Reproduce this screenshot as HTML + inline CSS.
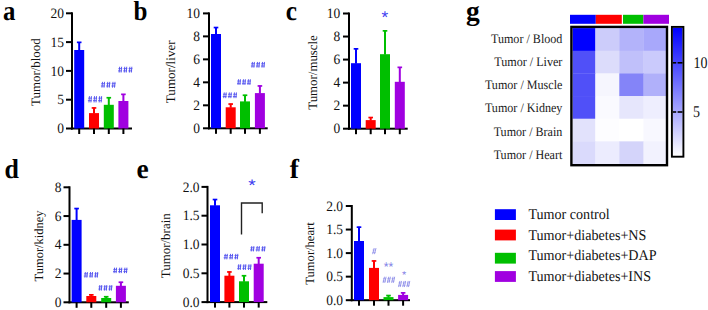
<!DOCTYPE html>
<html><head><meta charset="utf-8"><style>
html,body{margin:0;padding:0;background:#fff;width:708px;height:310px;overflow:hidden}
svg{display:block}
text{text-rendering:geometricPrecision}
</style></head><body>
<svg width="708" height="310" viewBox="0 0 708 310">
<rect width="708" height="310" fill="#fff"/>
<text x="2.9" y="20.1" font-size="27.5" font-family='"Liberation Serif", serif' font-weight="bold" fill="#000" transform="translate(2.9,0) scale(0.9,1) translate(-2.9,0)">a</text>
<text x="133.5" y="20.1" font-size="27.5" font-family='"Liberation Serif", serif' font-weight="bold" fill="#000" transform="translate(133.5,0) scale(0.91,1) translate(-133.5,0)">b</text>
<text x="285.7" y="20.1" font-size="27.5" font-family='"Liberation Serif", serif' font-weight="bold" fill="#000" transform="translate(285.7,0) scale(0.92,1) translate(-285.7,0)">c</text>
<text x="466.1" y="20.1" font-size="27.5" font-family='"Liberation Serif", serif' font-weight="bold" fill="#000" transform="translate(466.1,0) scale(1.0,1) translate(-466.1,0)">g</text>
<text x="4.6" y="177.5" font-size="27.5" font-family='"Liberation Serif", serif' font-weight="bold" fill="#000" transform="translate(4.6,0) scale(0.94,1) translate(-4.6,0)">d</text>
<text x="136.4" y="177.5" font-size="27.5" font-family='"Liberation Serif", serif' font-weight="bold" fill="#000" transform="translate(136.4,0) scale(1.0,1) translate(-136.4,0)">e</text>
<text x="289.7" y="177.5" font-size="27.5" font-family='"Liberation Serif", serif' font-weight="bold" fill="#000" transform="translate(289.7,0) scale(1.0,1) translate(-289.7,0)">f</text>
<rect x="71.00" y="12.30" width="2.00" height="117.20" fill="#000"/>
<rect x="71.00" y="127.50" width="61.00" height="2.00" fill="#000"/>
<rect x="66.00" y="127.50" width="6.00" height="2.00" fill="#000"/>
<text x="64.00" y="133.10" font-size="13.5" text-anchor="end" font-family='"Liberation Serif", serif' font-weight="normal" fill="#111" transform="translate(0,133.10) scale(1,1.06) translate(0,-133.10)" >0</text>
<rect x="66.00" y="98.70" width="6.00" height="2.00" fill="#000"/>
<text x="64.00" y="104.30" font-size="13.5" text-anchor="end" font-family='"Liberation Serif", serif' font-weight="normal" fill="#111" transform="translate(0,104.30) scale(1,1.06) translate(0,-104.30)" >5</text>
<rect x="66.00" y="69.90" width="6.00" height="2.00" fill="#000"/>
<text x="64.00" y="75.50" font-size="13.5" text-anchor="end" font-family='"Liberation Serif", serif' font-weight="normal" fill="#111" transform="translate(0,75.50) scale(1,1.06) translate(0,-75.50)" >10</text>
<rect x="66.00" y="41.10" width="6.00" height="2.00" fill="#000"/>
<text x="64.00" y="46.70" font-size="13.5" text-anchor="end" font-family='"Liberation Serif", serif' font-weight="normal" fill="#111" transform="translate(0,46.70) scale(1,1.06) translate(0,-46.70)" >15</text>
<rect x="66.00" y="12.30" width="6.00" height="2.00" fill="#000"/>
<text x="64.00" y="17.90" font-size="13.5" text-anchor="end" font-family='"Liberation Serif", serif' font-weight="normal" fill="#111" transform="translate(0,17.90) scale(1,1.06) translate(0,-17.90)" >20</text>
<rect x="74.20" y="50.00" width="10.00" height="78.50" fill="#0000ff"/>
<rect x="78.20" y="42.00" width="2.00" height="8.50" fill="#0000ff"/>
<rect x="76.90" y="41.50" width="4.60" height="1.70" fill="#0000ff"/>
<rect x="78.20" y="128.50" width="2.00" height="5.50" fill="#000"/>
<rect x="89.00" y="113.10" width="10.00" height="15.40" fill="#ff0000"/>
<rect x="93.00" y="107.60" width="2.00" height="6.00" fill="#ff0000"/>
<rect x="91.70" y="107.10" width="4.60" height="1.70" fill="#ff0000"/>
<rect x="93.00" y="128.50" width="2.00" height="5.50" fill="#000"/>
<rect x="103.80" y="104.80" width="10.00" height="23.70" fill="#00bf00"/>
<rect x="107.80" y="97.40" width="2.00" height="7.90" fill="#00bf00"/>
<rect x="106.50" y="96.90" width="4.60" height="1.70" fill="#00bf00"/>
<rect x="107.80" y="128.50" width="2.00" height="5.50" fill="#000"/>
<rect x="118.40" y="101.00" width="10.00" height="27.50" fill="#a000e0"/>
<rect x="122.40" y="94.00" width="2.00" height="7.50" fill="#a000e0"/>
<rect x="121.10" y="93.50" width="4.60" height="1.70" fill="#a000e0"/>
<rect x="122.40" y="128.50" width="2.00" height="5.50" fill="#000"/>
<text transform="translate(39.60,72.10) rotate(-90)" font-size="12.9" text-anchor="middle" font-family='"Liberation Serif", serif' fill="#111">Tumor/blood</text>
<rect x="208.00" y="12.40" width="2.00" height="116.90" fill="#000"/>
<rect x="208.00" y="127.30" width="59.70" height="2.00" fill="#000"/>
<rect x="203.00" y="127.30" width="6.00" height="2.00" fill="#000"/>
<text x="200.00" y="132.90" font-size="13.5" text-anchor="end" font-family='"Liberation Serif", serif' font-weight="normal" fill="#111" transform="translate(0,132.90) scale(1,1.06) translate(0,-132.90)" >0</text>
<rect x="203.00" y="104.32" width="6.00" height="2.00" fill="#000"/>
<text x="200.00" y="109.92" font-size="13.5" text-anchor="end" font-family='"Liberation Serif", serif' font-weight="normal" fill="#111" transform="translate(0,109.92) scale(1,1.06) translate(0,-109.92)" >2</text>
<rect x="203.00" y="81.34" width="6.00" height="2.00" fill="#000"/>
<text x="200.00" y="86.94" font-size="13.5" text-anchor="end" font-family='"Liberation Serif", serif' font-weight="normal" fill="#111" transform="translate(0,86.94) scale(1,1.06) translate(0,-86.94)" >4</text>
<rect x="203.00" y="58.36" width="6.00" height="2.00" fill="#000"/>
<text x="200.00" y="63.96" font-size="13.5" text-anchor="end" font-family='"Liberation Serif", serif' font-weight="normal" fill="#111" transform="translate(0,63.96) scale(1,1.06) translate(0,-63.96)" >6</text>
<rect x="203.00" y="35.38" width="6.00" height="2.00" fill="#000"/>
<text x="200.00" y="40.98" font-size="13.5" text-anchor="end" font-family='"Liberation Serif", serif' font-weight="normal" fill="#111" transform="translate(0,40.98) scale(1,1.06) translate(0,-40.98)" >8</text>
<rect x="203.00" y="12.40" width="6.00" height="2.00" fill="#000"/>
<text x="200.00" y="18.00" font-size="13.5" text-anchor="end" font-family='"Liberation Serif", serif' font-weight="normal" fill="#111" transform="translate(0,18.00) scale(1,1.06) translate(0,-18.00)" >10</text>
<rect x="211.00" y="34.00" width="10.00" height="94.30" fill="#0000ff"/>
<rect x="215.00" y="27.20" width="2.00" height="7.30" fill="#0000ff"/>
<rect x="213.70" y="26.70" width="4.60" height="1.70" fill="#0000ff"/>
<rect x="215.00" y="128.30" width="2.00" height="5.50" fill="#000"/>
<rect x="225.70" y="107.30" width="10.00" height="21.00" fill="#ff0000"/>
<rect x="229.70" y="103.70" width="2.00" height="4.10" fill="#ff0000"/>
<rect x="228.40" y="103.20" width="4.60" height="1.70" fill="#ff0000"/>
<rect x="229.70" y="128.30" width="2.00" height="5.50" fill="#000"/>
<rect x="240.00" y="101.40" width="10.00" height="26.90" fill="#00bf00"/>
<rect x="244.00" y="94.90" width="2.00" height="7.00" fill="#00bf00"/>
<rect x="242.70" y="94.40" width="4.60" height="1.70" fill="#00bf00"/>
<rect x="244.00" y="128.30" width="2.00" height="5.50" fill="#000"/>
<rect x="254.90" y="93.10" width="10.00" height="35.20" fill="#a000e0"/>
<rect x="258.90" y="85.60" width="2.00" height="8.00" fill="#a000e0"/>
<rect x="257.60" y="85.10" width="4.60" height="1.70" fill="#a000e0"/>
<rect x="258.90" y="128.30" width="2.00" height="5.50" fill="#000"/>
<text transform="translate(175.20,71.80) rotate(-90)" font-size="13.1" text-anchor="middle" font-family='"Liberation Serif", serif' fill="#111">Tumor/liver</text>
<rect x="348.00" y="12.50" width="2.00" height="117.20" fill="#000"/>
<rect x="348.00" y="127.70" width="59.70" height="2.00" fill="#000"/>
<rect x="343.00" y="127.70" width="6.00" height="2.00" fill="#000"/>
<text x="340.30" y="133.30" font-size="13.5" text-anchor="end" font-family='"Liberation Serif", serif' font-weight="normal" fill="#111" transform="translate(0,133.30) scale(1,1.06) translate(0,-133.30)" >0</text>
<rect x="343.00" y="104.66" width="6.00" height="2.00" fill="#000"/>
<text x="340.30" y="110.26" font-size="13.5" text-anchor="end" font-family='"Liberation Serif", serif' font-weight="normal" fill="#111" transform="translate(0,110.26) scale(1,1.06) translate(0,-110.26)" >2</text>
<rect x="343.00" y="81.62" width="6.00" height="2.00" fill="#000"/>
<text x="340.30" y="87.22" font-size="13.5" text-anchor="end" font-family='"Liberation Serif", serif' font-weight="normal" fill="#111" transform="translate(0,87.22) scale(1,1.06) translate(0,-87.22)" >4</text>
<rect x="343.00" y="58.58" width="6.00" height="2.00" fill="#000"/>
<text x="340.30" y="64.18" font-size="13.5" text-anchor="end" font-family='"Liberation Serif", serif' font-weight="normal" fill="#111" transform="translate(0,64.18) scale(1,1.06) translate(0,-64.18)" >6</text>
<rect x="343.00" y="35.54" width="6.00" height="2.00" fill="#000"/>
<text x="340.30" y="41.14" font-size="13.5" text-anchor="end" font-family='"Liberation Serif", serif' font-weight="normal" fill="#111" transform="translate(0,41.14) scale(1,1.06) translate(0,-41.14)" >8</text>
<rect x="343.00" y="12.50" width="6.00" height="2.00" fill="#000"/>
<text x="340.30" y="18.10" font-size="13.5" text-anchor="end" font-family='"Liberation Serif", serif' font-weight="normal" fill="#111" transform="translate(0,18.10) scale(1,1.06) translate(0,-18.10)" >10</text>
<rect x="351.00" y="63.20" width="10.00" height="65.50" fill="#0000ff"/>
<rect x="355.00" y="48.50" width="2.00" height="15.20" fill="#0000ff"/>
<rect x="353.70" y="48.00" width="4.60" height="1.70" fill="#0000ff"/>
<rect x="355.00" y="128.70" width="2.00" height="5.50" fill="#000"/>
<rect x="365.70" y="120.10" width="10.00" height="8.60" fill="#ff0000"/>
<rect x="369.70" y="117.20" width="2.00" height="3.40" fill="#ff0000"/>
<rect x="368.40" y="116.70" width="4.60" height="1.70" fill="#ff0000"/>
<rect x="369.70" y="128.70" width="2.00" height="5.50" fill="#000"/>
<rect x="380.00" y="54.20" width="10.00" height="74.50" fill="#00bf00"/>
<rect x="384.00" y="30.50" width="2.00" height="24.20" fill="#00bf00"/>
<rect x="382.70" y="30.00" width="4.60" height="1.70" fill="#00bf00"/>
<rect x="384.00" y="128.70" width="2.00" height="5.50" fill="#000"/>
<rect x="394.80" y="81.80" width="10.00" height="46.90" fill="#a000e0"/>
<rect x="398.80" y="67.00" width="2.00" height="15.30" fill="#a000e0"/>
<rect x="397.50" y="66.50" width="4.60" height="1.70" fill="#a000e0"/>
<rect x="398.80" y="128.70" width="2.00" height="5.50" fill="#000"/>
<text transform="translate(316.60,72.45) rotate(-90)" font-size="12.87" text-anchor="middle" font-family='"Liberation Serif", serif' fill="#111">Tumor/muscle</text>
<rect x="68.50" y="186.30" width="2.00" height="117.00" fill="#000"/>
<rect x="68.50" y="301.30" width="60.30" height="2.00" fill="#000"/>
<rect x="63.50" y="301.30" width="6.00" height="2.00" fill="#000"/>
<text x="61.50" y="306.90" font-size="13.5" text-anchor="end" font-family='"Liberation Serif", serif' font-weight="normal" fill="#111" transform="translate(0,306.90) scale(1,1.06) translate(0,-306.90)" >0</text>
<rect x="63.50" y="272.55" width="6.00" height="2.00" fill="#000"/>
<text x="61.50" y="278.15" font-size="13.5" text-anchor="end" font-family='"Liberation Serif", serif' font-weight="normal" fill="#111" transform="translate(0,278.15) scale(1,1.06) translate(0,-278.15)" >2</text>
<rect x="63.50" y="243.80" width="6.00" height="2.00" fill="#000"/>
<text x="61.50" y="249.40" font-size="13.5" text-anchor="end" font-family='"Liberation Serif", serif' font-weight="normal" fill="#111" transform="translate(0,249.40) scale(1,1.06) translate(0,-249.40)" >4</text>
<rect x="63.50" y="215.05" width="6.00" height="2.00" fill="#000"/>
<text x="61.50" y="220.65" font-size="13.5" text-anchor="end" font-family='"Liberation Serif", serif' font-weight="normal" fill="#111" transform="translate(0,220.65) scale(1,1.06) translate(0,-220.65)" >6</text>
<rect x="63.50" y="186.30" width="6.00" height="2.00" fill="#000"/>
<text x="61.50" y="191.90" font-size="13.5" text-anchor="end" font-family='"Liberation Serif", serif' font-weight="normal" fill="#111" transform="translate(0,191.90) scale(1,1.06) translate(0,-191.90)" >8</text>
<rect x="71.60" y="219.90" width="10.00" height="82.40" fill="#0000ff"/>
<rect x="75.60" y="208.20" width="2.00" height="12.20" fill="#0000ff"/>
<rect x="74.30" y="207.70" width="4.60" height="1.70" fill="#0000ff"/>
<rect x="75.60" y="302.30" width="2.00" height="5.50" fill="#000"/>
<rect x="86.30" y="296.00" width="10.00" height="6.30" fill="#ff0000"/>
<rect x="90.30" y="294.50" width="2.00" height="2.00" fill="#ff0000"/>
<rect x="89.00" y="294.00" width="4.60" height="1.70" fill="#ff0000"/>
<rect x="90.30" y="302.30" width="2.00" height="5.50" fill="#000"/>
<rect x="101.20" y="298.00" width="10.00" height="4.30" fill="#00bf00"/>
<rect x="105.20" y="296.40" width="2.00" height="2.10" fill="#00bf00"/>
<rect x="103.90" y="295.90" width="4.60" height="1.70" fill="#00bf00"/>
<rect x="105.20" y="302.30" width="2.00" height="5.50" fill="#000"/>
<rect x="115.90" y="285.80" width="10.00" height="16.50" fill="#a000e0"/>
<rect x="119.90" y="281.90" width="2.00" height="4.40" fill="#a000e0"/>
<rect x="118.60" y="281.40" width="4.60" height="1.70" fill="#a000e0"/>
<rect x="119.90" y="302.30" width="2.00" height="5.50" fill="#000"/>
<text transform="translate(42.60,246.00) rotate(-90)" font-size="12.5" text-anchor="middle" font-family='"Liberation Serif", serif' fill="#111">Tumor/kidney</text>
<rect x="206.50" y="185.90" width="2.00" height="117.20" fill="#000"/>
<rect x="206.50" y="301.10" width="60.80" height="2.00" fill="#000"/>
<rect x="201.50" y="301.10" width="6.00" height="2.00" fill="#000"/>
<text x="199.50" y="306.70" font-size="13.5" text-anchor="end" font-family='"Liberation Serif", serif' font-weight="normal" fill="#111" transform="translate(0,306.70) scale(1,1.06) translate(0,-306.70)" >0.0</text>
<rect x="201.50" y="272.30" width="6.00" height="2.00" fill="#000"/>
<text x="199.50" y="277.90" font-size="13.5" text-anchor="end" font-family='"Liberation Serif", serif' font-weight="normal" fill="#111" transform="translate(0,277.90) scale(1,1.06) translate(0,-277.90)" >0.5</text>
<rect x="201.50" y="243.50" width="6.00" height="2.00" fill="#000"/>
<text x="199.50" y="249.10" font-size="13.5" text-anchor="end" font-family='"Liberation Serif", serif' font-weight="normal" fill="#111" transform="translate(0,249.10) scale(1,1.06) translate(0,-249.10)" >1.0</text>
<rect x="201.50" y="214.70" width="6.00" height="2.00" fill="#000"/>
<text x="199.50" y="220.30" font-size="13.5" text-anchor="end" font-family='"Liberation Serif", serif' font-weight="normal" fill="#111" transform="translate(0,220.30) scale(1,1.06) translate(0,-220.30)" >1.5</text>
<rect x="201.50" y="185.90" width="6.00" height="2.00" fill="#000"/>
<text x="199.50" y="191.50" font-size="13.5" text-anchor="end" font-family='"Liberation Serif", serif' font-weight="normal" fill="#111" transform="translate(0,191.50) scale(1,1.06) translate(0,-191.50)" >2.0</text>
<rect x="210.00" y="205.30" width="10.00" height="96.80" fill="#0000ff"/>
<rect x="214.00" y="199.20" width="2.00" height="6.60" fill="#0000ff"/>
<rect x="212.70" y="198.70" width="4.60" height="1.70" fill="#0000ff"/>
<rect x="214.00" y="302.10" width="2.00" height="5.50" fill="#000"/>
<rect x="224.40" y="275.70" width="10.00" height="26.40" fill="#ff0000"/>
<rect x="228.40" y="271.60" width="2.00" height="4.60" fill="#ff0000"/>
<rect x="227.10" y="271.10" width="4.60" height="1.70" fill="#ff0000"/>
<rect x="228.40" y="302.10" width="2.00" height="5.50" fill="#000"/>
<rect x="239.00" y="281.30" width="10.00" height="20.80" fill="#00bf00"/>
<rect x="243.00" y="275.40" width="2.00" height="6.40" fill="#00bf00"/>
<rect x="241.70" y="274.90" width="4.60" height="1.70" fill="#00bf00"/>
<rect x="243.00" y="302.10" width="2.00" height="5.50" fill="#000"/>
<rect x="253.70" y="263.70" width="10.00" height="38.40" fill="#a000e0"/>
<rect x="257.70" y="257.40" width="2.00" height="6.80" fill="#a000e0"/>
<rect x="256.40" y="256.90" width="4.60" height="1.70" fill="#a000e0"/>
<rect x="257.70" y="302.10" width="2.00" height="5.50" fill="#000"/>
<text transform="translate(170.00,245.80) rotate(-90)" font-size="12.96" text-anchor="middle" font-family='"Liberation Serif", serif' fill="#111">Tumor/brain</text>
<rect x="350.80" y="205.00" width="2.00" height="96.20" fill="#000"/>
<rect x="350.80" y="299.20" width="59.20" height="2.00" fill="#000"/>
<rect x="345.80" y="299.20" width="6.00" height="2.00" fill="#000"/>
<text x="343.10" y="304.80" font-size="13.5" text-anchor="end" font-family='"Liberation Serif", serif' font-weight="normal" fill="#111" transform="translate(0,304.80) scale(1,1.06) translate(0,-304.80)" >0.0</text>
<rect x="345.80" y="275.65" width="6.00" height="2.00" fill="#000"/>
<text x="343.10" y="281.25" font-size="13.5" text-anchor="end" font-family='"Liberation Serif", serif' font-weight="normal" fill="#111" transform="translate(0,281.25) scale(1,1.06) translate(0,-281.25)" >0.5</text>
<rect x="345.80" y="252.10" width="6.00" height="2.00" fill="#000"/>
<text x="343.10" y="257.70" font-size="13.5" text-anchor="end" font-family='"Liberation Serif", serif' font-weight="normal" fill="#111" transform="translate(0,257.70) scale(1,1.06) translate(0,-257.70)" >1.0</text>
<rect x="345.80" y="228.55" width="6.00" height="2.00" fill="#000"/>
<text x="343.10" y="234.15" font-size="13.5" text-anchor="end" font-family='"Liberation Serif", serif' font-weight="normal" fill="#111" transform="translate(0,234.15) scale(1,1.06) translate(0,-234.15)" >1.5</text>
<rect x="345.80" y="205.00" width="6.00" height="2.00" fill="#000"/>
<text x="343.10" y="210.60" font-size="13.5" text-anchor="end" font-family='"Liberation Serif", serif' font-weight="normal" fill="#111" transform="translate(0,210.60) scale(1,1.06) translate(0,-210.60)" >2.0</text>
<rect x="354.00" y="241.00" width="10.00" height="59.20" fill="#0000ff"/>
<rect x="358.00" y="226.80" width="2.00" height="14.70" fill="#0000ff"/>
<rect x="356.70" y="226.30" width="4.60" height="1.70" fill="#0000ff"/>
<rect x="358.00" y="300.20" width="2.00" height="5.50" fill="#000"/>
<rect x="369.00" y="267.90" width="10.00" height="32.30" fill="#ff0000"/>
<rect x="373.00" y="260.60" width="2.00" height="7.80" fill="#ff0000"/>
<rect x="371.70" y="260.10" width="4.60" height="1.70" fill="#ff0000"/>
<rect x="373.00" y="300.20" width="2.00" height="5.50" fill="#000"/>
<rect x="383.50" y="297.10" width="10.00" height="3.10" fill="#00bf00"/>
<rect x="387.50" y="295.20" width="2.00" height="2.40" fill="#00bf00"/>
<rect x="386.20" y="294.70" width="4.60" height="1.70" fill="#00bf00"/>
<rect x="387.50" y="300.20" width="2.00" height="5.50" fill="#000"/>
<rect x="398.10" y="294.90" width="10.00" height="5.30" fill="#a000e0"/>
<rect x="402.10" y="292.50" width="2.00" height="2.90" fill="#a000e0"/>
<rect x="400.80" y="292.00" width="4.60" height="1.70" fill="#a000e0"/>
<rect x="402.10" y="300.20" width="2.00" height="5.50" fill="#000"/>
<text transform="translate(314.20,253.50) rotate(-90)" font-size="12.55" text-anchor="middle" font-family='"Liberation Serif", serif' fill="#111">Tumor/heart</text>
<path d="M89.45 96.15L88.96 102.45M91.41 96.15L90.92 102.45M94.56 96.15L94.07 102.45M96.52 96.15L96.03 102.45M99.67 96.15L99.18 102.45M101.63 96.15L101.14 102.45" stroke="#5252ee" stroke-width="0.95" fill="none"/>
<path d="M88.23 98.16H91.99M87.90 100.64H91.66M93.33 98.16H97.09M93.01 100.64H96.77M98.44 98.16H102.20M98.11 100.64H101.87" stroke="#5252ee" stroke-width="0.85" fill="none"/>
<path d="M102.50 81.85L101.99 87.65M104.51 81.85L104.01 87.65M107.75 81.85L107.24 87.65M109.76 81.85L109.26 87.65M113.00 81.85L112.49 87.65M115.01 81.85L114.51 87.65" stroke="#5252ee" stroke-width="0.95" fill="none"/>
<path d="M101.24 83.70H105.10M100.90 85.99H104.76M106.49 83.70H110.35M106.15 85.99H110.01M111.74 83.70H115.60M111.40 85.99H115.26" stroke="#5252ee" stroke-width="0.85" fill="none"/>
<path d="M119.65 66.75L119.16 72.55M121.61 66.75L121.12 72.55M124.76 66.75L124.27 72.55M126.72 66.75L126.23 72.55M129.87 66.75L129.38 72.55M131.83 66.75L131.34 72.55" stroke="#5252ee" stroke-width="0.95" fill="none"/>
<path d="M118.43 68.60H122.19M118.10 70.89H121.86M123.53 68.60H127.29M123.21 70.89H126.97M128.64 68.60H132.40M128.31 70.89H132.07" stroke="#5252ee" stroke-width="0.85" fill="none"/>
<path d="M224.25 92.45L223.76 98.15M226.21 92.45L225.72 98.15M229.36 92.45L228.87 98.15M231.32 92.45L230.83 98.15M234.47 92.45L233.98 98.15M236.43 92.45L235.94 98.15" stroke="#5252ee" stroke-width="0.95" fill="none"/>
<path d="M223.03 94.26H226.79M222.70 96.52H226.46M228.13 94.26H231.89M227.81 96.52H231.57M233.24 94.26H237.00M232.91 96.52H236.67" stroke="#5252ee" stroke-width="0.85" fill="none"/>
<path d="M238.51 79.25L238.03 84.95M240.42 79.25L239.94 84.95M243.47 79.25L243.00 84.95M245.38 79.25L244.90 84.95M248.44 79.25L247.96 84.95M250.34 79.25L249.87 84.95" stroke="#5252ee" stroke-width="0.95" fill="none"/>
<path d="M237.32 81.06H240.97M237.00 83.32H240.65M242.28 81.06H245.94M241.96 83.32H245.62M247.25 81.06H250.90M246.93 83.32H250.58" stroke="#5252ee" stroke-width="0.85" fill="none"/>
<path d="M252.43 61.95L251.95 67.65M254.36 61.95L253.88 67.65M257.47 61.95L256.98 67.65M259.40 61.95L258.92 67.65M262.50 61.95L262.02 67.65M264.44 61.95L263.95 67.65" stroke="#5252ee" stroke-width="0.95" fill="none"/>
<path d="M251.22 63.76H254.93M250.90 66.02H254.61M256.26 63.76H259.96M255.94 66.02H259.64M261.29 63.76H265.00M260.97 66.02H264.68" stroke="#5252ee" stroke-width="0.85" fill="none"/>
<path d="M85.37 272.05L84.88 277.65M87.36 272.05L86.87 277.65M90.55 272.05L90.06 277.65M92.54 272.05L92.04 277.65M95.73 272.05L95.23 277.65M97.72 272.05L97.22 277.65" stroke="#5252ee" stroke-width="0.95" fill="none"/>
<path d="M84.13 273.83H87.94M83.80 276.05H87.61M89.31 273.83H93.12M88.98 276.05H92.79M94.49 273.83H98.30M94.16 276.05H97.97" stroke="#5252ee" stroke-width="0.85" fill="none"/>
<path d="M99.83 285.05L99.35 290.65M101.76 285.05L101.28 290.65M104.87 285.05L104.38 290.65M106.80 285.05L106.32 290.65M109.90 285.05L109.42 290.65M111.84 285.05L111.35 290.65" stroke="#5252ee" stroke-width="0.95" fill="none"/>
<path d="M98.62 286.83H102.33M98.30 289.05H102.01M103.66 286.83H107.36M103.34 289.05H107.04M108.69 286.83H112.40M108.37 289.05H112.08" stroke="#5252ee" stroke-width="0.85" fill="none"/>
<path d="M114.57 267.65L114.08 273.15M116.56 267.65L116.07 273.15M119.75 267.65L119.26 273.15M121.74 267.65L121.24 273.15M124.93 267.65L124.43 273.15M126.92 267.65L126.42 273.15" stroke="#5252ee" stroke-width="0.95" fill="none"/>
<path d="M113.33 269.40H117.14M113.00 271.58H116.81M118.51 269.40H122.32M118.18 271.58H121.99M123.69 269.40H127.50M123.36 271.58H127.17" stroke="#5252ee" stroke-width="0.85" fill="none"/>
<path d="M225.30 253.85L224.79 259.35M227.31 253.85L226.81 259.35M230.55 253.85L230.04 259.35M232.56 253.85L232.06 259.35M235.80 253.85L235.29 259.35M237.81 253.85L237.31 259.35" stroke="#5252ee" stroke-width="0.95" fill="none"/>
<path d="M224.04 255.60H227.90M223.70 257.78H227.56M229.29 255.60H233.15M228.95 257.78H232.81M234.54 255.60H238.40M234.20 257.78H238.06" stroke="#5252ee" stroke-width="0.85" fill="none"/>
<path d="M238.75 264.25L238.26 269.95M240.71 264.25L240.22 269.95M243.86 264.25L243.37 269.95M245.82 264.25L245.33 269.95M248.97 264.25L248.48 269.95M250.93 264.25L250.44 269.95" stroke="#5252ee" stroke-width="0.95" fill="none"/>
<path d="M237.53 266.06H241.29M237.20 268.32H240.96M242.63 266.06H246.39M242.31 268.32H246.07M247.74 266.06H251.50M247.41 268.32H251.17" stroke="#5252ee" stroke-width="0.85" fill="none"/>
<path d="M251.77 246.15L251.24 251.45M253.88 246.15L253.36 251.45M257.27 246.15L256.74 251.45M259.38 246.15L258.86 251.45M262.77 246.15L262.24 251.45M264.88 246.15L264.36 251.45" stroke="#5252ee" stroke-width="0.95" fill="none"/>
<path d="M250.45 247.83H254.50M250.10 249.94H254.15M255.95 247.83H260.00M255.60 249.94H259.65M261.45 247.83H265.50M261.10 249.94H265.15" stroke="#5252ee" stroke-width="0.85" fill="none"/>
<path d="M374.18 248.05L372.66 254.15M376.00 248.05L374.48 254.15" stroke="#8080e6" stroke-width="0.8" fill="none"/>
<path d="M372.50 250.00H376.00M372.20 252.40H375.70" stroke="#8080e6" stroke-width="0.48" fill="none"/>
<path d="M384.48 276.75L383.11 282.85M386.13 276.75L384.76 282.85M388.77 276.75L387.40 282.85M390.41 276.75L389.04 282.85M393.05 276.75L391.68 282.85M394.70 276.75L393.33 282.85" stroke="#8080e6" stroke-width="0.8" fill="none"/>
<path d="M382.97 278.69H386.13M382.70 281.10H385.85M387.26 278.69H390.41M386.99 281.10H390.14M391.55 278.69H394.70M391.27 281.10H394.43" stroke="#8080e6" stroke-width="0.48" fill="none"/>
<path d="M399.92 280.95L398.60 287.05M401.51 280.95L400.19 287.05M404.07 280.95L402.74 287.05M405.66 280.95L404.33 287.05M408.21 280.95L406.88 287.05M409.80 280.95L408.47 287.05" stroke="#8080e6" stroke-width="0.8" fill="none"/>
<path d="M398.47 282.89H401.51M398.20 285.30H401.25M402.61 282.89H405.66M402.34 285.30H405.39M406.75 282.89H409.80M406.49 285.30H409.53" stroke="#8080e6" stroke-width="0.48" fill="none"/>
<text x="383.70" y="271.25" font-size="12.57" font-family='"Liberation Sans", sans-serif' fill="#8080e6" textLength="9.61" lengthAdjust="spacingAndGlyphs">**</text>
<text x="401.92" y="277.88" font-size="10.00" font-family='"Liberation Sans", sans-serif' fill="#8080e6" textLength="4.26" lengthAdjust="spacingAndGlyphs">*</text>
<text x="381.53" y="22.69" font-size="17.14" font-family='"Liberation Sans", sans-serif' fill="#3a3af0" textLength="6.67" lengthAdjust="spacingAndGlyphs">*</text>
<text x="248.19" y="190.90" font-size="16.86" font-family='"Liberation Sans", sans-serif' fill="#3a3af0" textLength="7.43" lengthAdjust="spacingAndGlyphs">*</text>
<path d="M241.5 234.6 V203 H262.2 V213.2" fill="none" stroke="#222" stroke-width="1.4"/>
<rect x="572.60" y="28.10" width="23.00" height="22.95" fill="#0000ff"/>
<rect x="595.30" y="28.10" width="24.30" height="22.95" fill="#ccccfa"/>
<rect x="619.30" y="28.10" width="24.50" height="22.95" fill="#b3b3fa"/>
<rect x="643.50" y="28.10" width="22.60" height="22.95" fill="#a8a8fb"/>
<rect x="572.60" y="50.75" width="23.00" height="22.95" fill="#5050f8"/>
<rect x="595.30" y="50.75" width="24.30" height="22.95" fill="#dcdcfb"/>
<rect x="619.30" y="50.75" width="24.50" height="22.95" fill="#c0c0fa"/>
<rect x="643.50" y="50.75" width="22.60" height="22.95" fill="#cacafc"/>
<rect x="572.60" y="73.40" width="23.00" height="22.95" fill="#5050f8"/>
<rect x="595.30" y="73.40" width="24.30" height="22.95" fill="#f6f6fe"/>
<rect x="619.30" y="73.40" width="24.50" height="22.95" fill="#8484f8"/>
<rect x="643.50" y="73.40" width="22.60" height="22.95" fill="#b0b0fa"/>
<rect x="572.60" y="96.05" width="23.00" height="22.95" fill="#5050f8"/>
<rect x="595.30" y="96.05" width="24.30" height="22.95" fill="#fafaff"/>
<rect x="619.30" y="96.05" width="24.50" height="22.95" fill="#e6e6fc"/>
<rect x="643.50" y="96.05" width="22.60" height="22.95" fill="#eeeefe"/>
<rect x="572.60" y="118.70" width="23.00" height="22.95" fill="#e2e2fc"/>
<rect x="595.30" y="118.70" width="24.30" height="22.95" fill="#fdfdff"/>
<rect x="619.30" y="118.70" width="24.50" height="22.95" fill="#ffffff"/>
<rect x="643.50" y="118.70" width="22.60" height="22.95" fill="#f8f8ff"/>
<rect x="572.60" y="141.35" width="23.00" height="22.95" fill="#dadafc"/>
<rect x="595.30" y="141.35" width="24.30" height="22.95" fill="#ececfe"/>
<rect x="619.30" y="141.35" width="24.50" height="22.95" fill="#d4d4fa"/>
<rect x="643.50" y="141.35" width="22.60" height="22.95" fill="#f2f2fe"/>
<rect x="571.40" y="26.90" width="95.60" height="138.30" fill="none" stroke="#000" stroke-width="2.4"/>
<rect x="570.00" y="14.80" width="25.80" height="9.00" fill="#0000ff"/>
<rect x="595.80" y="14.80" width="26.00" height="9.00" fill="#ff0000"/>
<rect x="623.00" y="14.80" width="20.40" height="9.00" fill="#00bf00"/>
<rect x="643.40" y="14.80" width="25.60" height="9.00" fill="#a000e0"/>
<text x="562.40" y="43.30" font-size="12.1" text-anchor="end" font-family='"Liberation Serif", serif' font-weight="normal" fill="#1a1a1a" transform="translate(0,43.30) scale(1,1.08) translate(0,-43.30)" >Tumor / Blood</text>
<text x="562.40" y="66.36" font-size="12.1" text-anchor="end" font-family='"Liberation Serif", serif' font-weight="normal" fill="#1a1a1a" transform="translate(0,66.36) scale(1,1.08) translate(0,-66.36)" >Tumor / Liver</text>
<text x="562.40" y="89.42" font-size="12.1" text-anchor="end" font-family='"Liberation Serif", serif' font-weight="normal" fill="#1a1a1a" transform="translate(0,89.42) scale(1,1.08) translate(0,-89.42)" >Tumor / Muscle</text>
<text x="562.40" y="112.48" font-size="12.1" text-anchor="end" font-family='"Liberation Serif", serif' font-weight="normal" fill="#1a1a1a" transform="translate(0,112.48) scale(1,1.08) translate(0,-112.48)" >Tumor / Kidney</text>
<text x="562.40" y="135.54" font-size="12.1" text-anchor="end" font-family='"Liberation Serif", serif' font-weight="normal" fill="#1a1a1a" transform="translate(0,135.54) scale(1,1.08) translate(0,-135.54)" >Tumor / Brain</text>
<text x="562.40" y="158.60" font-size="12.1" text-anchor="end" font-family='"Liberation Serif", serif' font-weight="normal" fill="#1a1a1a" transform="translate(0,158.60) scale(1,1.08) translate(0,-158.60)" >Tumor / Heart</text>
<defs><linearGradient id="cb" x1="0" y1="0" x2="0" y2="1"><stop offset="0" stop-color="#0000ff"/><stop offset="1" stop-color="#ffffff"/></linearGradient></defs>
<rect x="672.80" y="27.80" width="9.70" height="128.00" fill="url(#cb)"/>
<rect x="671.9" y="26.9" width="11.5" height="129.8" fill="none" stroke="#000" stroke-width="1.9"/>
<rect x="672.80" y="62.00" width="3.40" height="1.60" fill="#000"/>
<rect x="677.60" y="62.00" width="4.90" height="1.60" fill="#000"/>
<rect x="672.80" y="111.20" width="3.40" height="1.60" fill="#000"/>
<rect x="677.60" y="111.20" width="4.90" height="1.60" fill="#000"/>
<text x="693.50" y="67.80" font-size="14" text-anchor="start" font-family='"Liberation Serif", serif' font-weight="normal" fill="#111" transform="translate(0,67.80) scale(1,1.16) translate(0,-67.80)" >10</text>
<text x="693.10" y="116.50" font-size="14" text-anchor="start" font-family='"Liberation Serif", serif' font-weight="normal" fill="#111" transform="translate(0,116.50) scale(1,1.18) translate(0,-116.50)" >5</text>
<rect x="494.90" y="209.20" width="21.00" height="10.80" fill="#0000ff"/>
<text x="528.40" y="219.30" font-size="14.1" text-anchor="start" font-family='"Liberation Serif", serif' font-weight="normal" fill="#111" transform="translate(0,219.30) scale(1,1.06) translate(0,-219.30)" >Tumor control</text>
<rect x="494.90" y="229.60" width="21.00" height="10.80" fill="#ff0000"/>
<text x="528.40" y="240.00" font-size="14.1" text-anchor="start" font-family='"Liberation Serif", serif' font-weight="normal" fill="#111" transform="translate(0,240.00) scale(1,1.06) translate(0,-240.00)" >Tumor+diabetes+NS</text>
<rect x="494.90" y="252.80" width="21.00" height="10.80" fill="#00bf00"/>
<text x="528.40" y="259.80" font-size="14.1" text-anchor="start" font-family='"Liberation Serif", serif' font-weight="normal" fill="#111" transform="translate(0,259.80) scale(1,1.06) translate(0,-259.80)" >Tumor+diabetes+DAP</text>
<rect x="494.90" y="271.10" width="21.00" height="10.80" fill="#a000e0"/>
<text x="528.40" y="280.80" font-size="14.1" text-anchor="start" font-family='"Liberation Serif", serif' font-weight="normal" fill="#111" transform="translate(0,280.80) scale(1,1.06) translate(0,-280.80)" >Tumor+diabetes+INS</text>
</svg>
</body></html>
